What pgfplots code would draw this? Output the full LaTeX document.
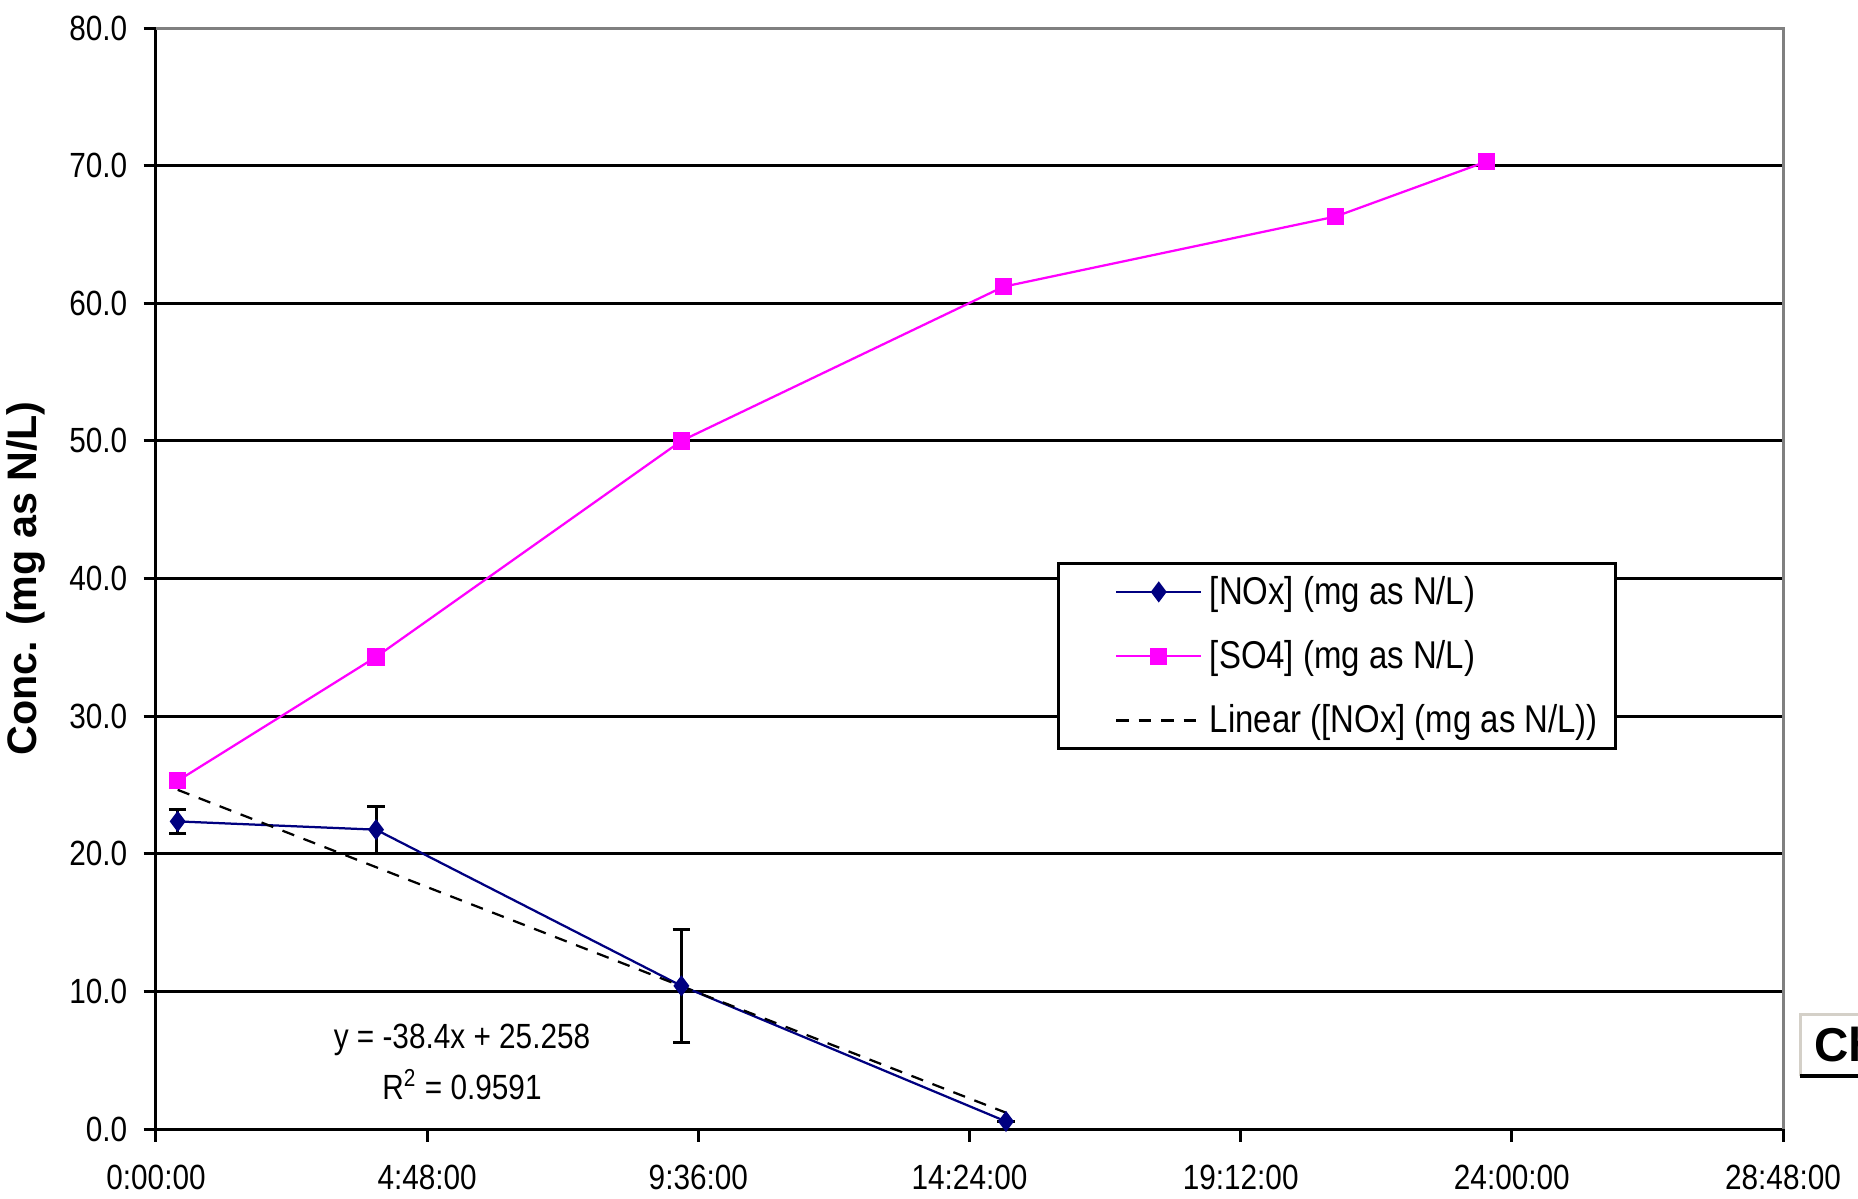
\documentclass[border=0pt]{standalone}
\usepackage{fontspec}
\setmainfont[FakeStretch=0.85]{Liberation Sans}
\newfontfamily\labelfont{Liberation Sans}
\usepackage{pgfplots}
\pgfplotsset{compat=1.18}
\definecolor{noxblue}{RGB}{0,0,128}
\definecolor{so4mag}{RGB}{255,0,255}
\definecolor{bordergray}{RGB}{128,128,128}
\definecolor{beige}{RGB}{212,208,200}
\begin{document}
\begin{tikzpicture}
\begin{axis}[
  scale only axis,
  width=650.8pt, height=440.4pt,
  xmin=0, xmax=1.2, ymin=0, ymax=80,
  axis x line*=bottom, axis y line*=left,
  axis line style={black, line width=1.2pt},
  every tick/.style={black, line width=1.2pt},
  tick align=outside,
  major tick length=5pt,
  xtick={0,0.2,0.4,0.6,0.8,1.0,1.2},
  xticklabels={0:00:00,4:48:00,9:36:00,14:24:00,19:12:00,24:00:00,28:48:00},
  ytick={0,10,20,30,40,50,60,70,80},
  /pgf/number format/assume math mode=true,
  yticklabel={\pgfmathprintnumber[fixed,fixed zerofill,precision=1]{\tick}},
  tick label style={font=\fontsize{14}{16}\selectfont},
  xticklabel style={yshift=-6pt},
  yticklabel style={xshift=-3pt},
  ymajorgrids,
  grid style={black, line width=1.2pt},
  ylabel={\labelfont\bfseries\fontsize{16.5}{18}\selectfont Conc. (mg as N/L)},
  ylabel style={at={(axis description cs:-0.0799,0.5)}, anchor=center},
  clip=false,
  legend style={at={(rel axis cs:0.554,0.515)}, anchor=north west,
    draw=black, line width=1.2pt, fill=white,
    font=\fontsize{15.5}{17}\selectfont,
    inner xsep=4pt, inner ysep=2pt,
    row sep=7pt,
    nodes={inner sep=3pt},
    legend cell align=left},
  legend image code/.code={\path (-18.5pt,0pt); \draw[mark repeat=2,mark phase=2,#1] plot coordinates {(0pt,0pt)(17pt,0pt)(34pt,0pt)};},
]
% NOx with error bars
\addplot[color=noxblue, line width=0.9pt, mark=diamond*, mark size=3.5pt,
  mark options={fill=noxblue, draw=noxblue},
  error bars/.cd, y dir=both, y explicit,
  error bar style={black, line width=1.2pt},
  error mark options={black, line width=1.2pt, mark size=3.5pt, rotate=90}]
  coordinates {
  (0.0160,22.35) +- (0,0.87)
  (0.1623,21.75) +- (0,1.70)
  (0.3875,10.40) +- (0,4.08)
  (0.6269,0.55) +- (0,0)
  };
\addlegendentry{[NOx] (mg as N/L)}
% SO4
\addplot[color=so4mag, line width=0.9pt, mark=square*, mark size=3pt,
  mark options={fill=so4mag, draw=so4mag}]
  coordinates {
  (0.0160,25.3)
  (0.1623,34.3)
  (0.3875,50.0)
  (0.6250,61.2)
  (0.8700,66.3)
  (0.9814,70.3)
  };
\addlegendentry{[SO4] (mg as N/L)}
% Linear trend
\addplot[black, line width=0.9pt, dash pattern=on 5pt off 4pt]
  coordinates {(0.0160,24.644) (0.6269,1.185)};
\addlegendentry{Linear ([NOx] (mg as N/L))}
% gray top/right border
\draw[bordergray, line width=1.2pt] (rel axis cs:0,1) -- (rel axis cs:1,1) -- (rel axis cs:1,0);
\node[font=\fontsize{14}{16}\selectfont, align=center] at (axis cs:0.2257,6.5) {y = -38.4x + 25.258};
\node[font=\fontsize{14}{16}\selectfont, align=center] at (axis cs:0.2257,3.2) {R\textsuperscript{2} = 0.9591};
\end{axis}
% partially visible chart title box at the right edge
\fill[white] (657.6pt,21.2pt) rectangle (690pt,46pt);
\draw[beige, line width=1.2pt] (657.6pt,21.2pt) -- (657.6pt,46pt) -- (690pt,46pt);
\draw[black, line width=1.6pt] (657.6pt,21.2pt) -- (690pt,21.2pt);
\node[anchor=base west, inner sep=0pt, font=\labelfont\bfseries\fontsize{19}{21}\selectfont] at (663pt,27pt) {Ch};
\pgfresetboundingbox
\path[use as bounding box] (-62.4pt,-27.6pt) rectangle (680.8pt,451.6pt);
\end{tikzpicture}
\end{document}
